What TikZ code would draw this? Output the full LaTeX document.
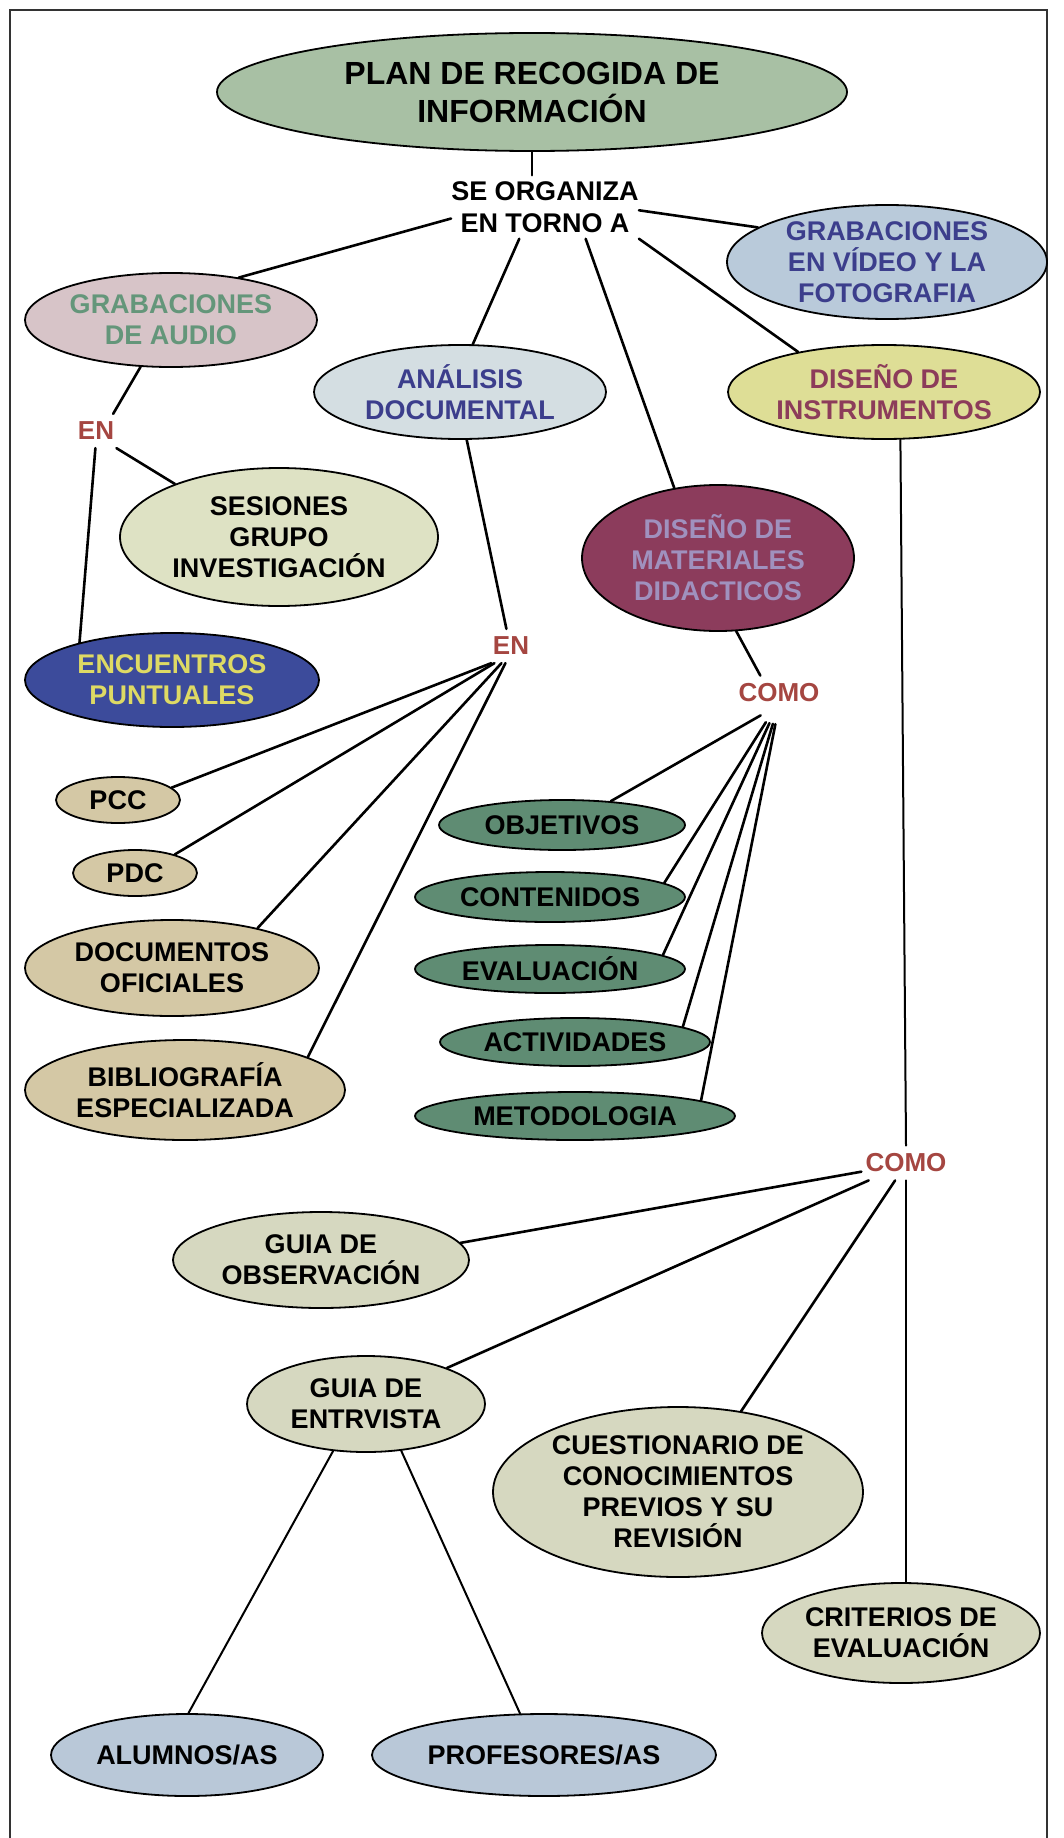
\documentclass[tikz,border=0pt]{standalone}
\usepackage{fontspec}
\setmainfont{Liberation Sans}
\usetikzlibrary{shapes.geometric}

% fills and text colours of the concept map
\definecolor{cPlan}{HTML}{A8C0A4}
\definecolor{cAudio}{HTML}{D7C4C8}
\definecolor{cAudioTx}{HTML}{64967A}
\definecolor{cVideo}{HTML}{B9CADA}
\definecolor{cAnal}{HTML}{D4DEE2}
\definecolor{cBlueTx}{HTML}{3C3E8C}
\definecolor{cInstr}{HTML}{DEDE96}
\definecolor{cInstrTx}{HTML}{8C3C5A}
\definecolor{cMat}{HTML}{8C3C5C}
\definecolor{cMatTx}{HTML}{A091BE}
\definecolor{cSes}{HTML}{DEE2C4}
\definecolor{cEnc}{HTML}{3C4B9B}
\definecolor{cEncTx}{HTML}{DEDA64}
\definecolor{cTan}{HTML}{D4C8A5}
\definecolor{cGreen}{HTML}{5F8C73}
\definecolor{cSage}{HTML}{D6D8C0}
\definecolor{cSky}{HTML}{B9C8D8}
\definecolor{cWord}{HTML}{A54641}

\tikzset{
  bub/.style={ellipse, draw=black, line width=1.8pt, inner sep=0pt},
  txt/.style={font=\bfseries\fontsize{27}{31}\selectfont, align=center, inner sep=0pt},
  word/.style={font=\bfseries\fontsize{26}{30}\selectfont, text=cWord, inner xsep=4pt, inner ysep=8pt},
  link/.style={line width=2.6pt, line cap=round},
  thin/.style={line width=2pt, line cap=round},
}

\begin{document}
\begin{tikzpicture}[x=1pt, y=-1pt]
\useasboundingbox (0,0) rectangle (1064,1838);
\fill[white] (0,0) rectangle (1064,1838);

% page frame
\draw[line width=2.5pt, black!80] (10,1838) -- (10,10) -- (1047,10) -- (1047,1838);

% main topic
\node[bub, fill=cPlan, minimum width=630, minimum height=118,
  label={[txt, font=\bfseries\fontsize{32}{38}\selectfont]center:{PLAN DE RECOGIDA DE\\INFORMACIÓN}}] (plan) at (532,92) {};
\node[font=\bfseries\fontsize{27}{32}\selectfont, align=center, inner xsep=0pt, inner ysep=6pt] (org) at (545,207) {SE ORGANIZA\\EN TORNO A};

% first level
\node[bub, fill=cAudio, minimum width=292, minimum height=94,
  label={[txt, text=cAudioTx]center:{GRABACIONES\\DE AUDIO}}] (audio) at (171,320) {};
\node[bub, fill=cVideo, minimum width=320, minimum height=114,
  label={[txt, text=cBlueTx]center:{GRABACIONES\\EN VÍDEO Y LA\\FOTOGRAFIA}}] (video) at (887,262) {};
\node[bub, fill=cAnal, minimum width=292, minimum height=94,
  label={[txt, text=cBlueTx]center:{ANÁLISIS\\DOCUMENTAL}}] (anal) at (460,392) {};
\node[bub, fill=cInstr, minimum width=312, minimum height=94,
  label={[txt, text=cInstrTx]center:{DISEÑO DE\\INSTRUMENTOS}}] (instr) at (884,392) {};
\node[bub, fill=cMat, minimum width=272, minimum height=146,
  label={[txt, text=cMatTx]center:{DISEÑO DE\\MATERIALES\\DIDACTICOS}}] (mat) at (718,558) {};

% audio branch
\node[word] (en1) at (96,431) {EN};
\node[bub, fill=cSes, minimum width=318, minimum height=138,
  label={[txt]center:{SESIONES\\GRUPO\\INVESTIGACIÓN}}] (ses) at (279,537) {};
\node[bub, fill=cEnc, minimum width=294, minimum height=94,
  label={[txt, text=cEncTx]center:{ENCUENTROS\\PUNTUALES}}] (enc) at (172,680) {};

% document analysis branch
\node[word] (en2) at (511,646) {EN};
\node[bub, fill=cTan, minimum width=124, minimum height=46,
  label={[txt]center:{PCC}}] (pcc) at (118,800) {};
\node[bub, fill=cTan, minimum width=124, minimum height=46,
  label={[txt]center:{PDC}}] (pdc) at (135,873) {};
\node[bub, fill=cTan, minimum width=294, minimum height=96,
  label={[txt]center:{DOCUMENTOS\\OFICIALES}}] (doc) at (172,968) {};
\node[bub, fill=cTan, minimum width=320, minimum height=100,
  label={[txt]center:{BIBLIOGRAFÍA\\ESPECIALIZADA}}] (bib) at (185,1090) {};

% teaching materials branch
\node[word] (como1) at (779,693) {COMO};
\node[bub, fill=cGreen, minimum width=246, minimum height=50,
  label={[txt]center:{OBJETIVOS}}] (obj) at (562,825) {};
\node[bub, fill=cGreen, minimum width=270, minimum height=50,
  label={[txt]center:{CONTENIDOS}}] (cont) at (550,897) {};
\node[bub, fill=cGreen, minimum width=270, minimum height=48,
  label={[txt]center:{EVALUACIÓN}}] (eval) at (550,969) {};
\node[bub, fill=cGreen, minimum width=270, minimum height=48,
  label={[txt]center:{ACTIVIDADES}}] (act) at (575,1042) {};
\node[bub, fill=cGreen, minimum width=320, minimum height=48,
  label={[txt]center:{METODOLOGIA}}] (met) at (575,1116) {};

% instruments branch
\node[word] (como2) at (906,1163) {COMO};
\node[bub, fill=cSage, minimum width=296, minimum height=96,
  label={[txt]center:{GUIA DE\\OBSERVACIÓN}}] (obs) at (321,1260) {};
\node[bub, fill=cSage, minimum width=238, minimum height=96,
  label={[txt]center:{GUIA DE\\ENTRVISTA}}] (entr) at (366,1404) {};
\node[bub, fill=cSage, minimum width=370, minimum height=170,
  label={[txt]center:{CUESTIONARIO DE\\CONOCIMIENTOS\\PREVIOS Y SU\\REVISIÓN}}] (cue) at (678,1492) {};
\node[bub, fill=cSage, minimum width=278, minimum height=100,
  label={[txt]center:{CRITERIOS DE\\EVALUACIÓN}}] (crit) at (901,1633) {};
\node[bub, fill=cSky, minimum width=272, minimum height=82,
  label={[txt]center:{ALUMNOS/AS}}] (alu) at (187,1755) {};
\node[bub, fill=cSky, minimum width=344, minimum height=82,
  label={[txt]center:{PROFESORES/AS}}] (prof) at (544,1755) {};

% connectors
\draw[link] (plan.south) -- (plan.south |- org.north);
\draw[link] (org.187) -- (audio.32);
\draw[link] (org.358) -- (video.165);
\draw[link] (org.south east) -- (instr.155);
\draw[link] (org.322) -- (mat.122);
\draw[link] (org.231) -- (anal.75);

\draw[link] (audio.237) -- (en1.45);
\draw[link] (en1.320) -- (ses.153);
\draw[link] (en1.268) -- (enc.158);

\draw[link] (anal.278) -- (en2.105);
\draw[link] (en2.221) -- (pcc.13);
\draw[link] (en2.226) -- (pdc.25);
\draw[link] (en2.241) -- (doc.25);
\draw[link] (en2.252) -- (bib.15);

\draw[link] (mat.284) -- (como1.137);
\draw[link, shorten <=10pt] (como1.241) -- (obj.26);
\draw[link, shorten <=14pt] (como1.252) -- (cont.7);
\draw[link, shorten <=14pt] (como1.258) -- (eval.7);
\draw[link, shorten <=14pt] (como1.263) -- (act.8);
\draw[link, shorten <=14pt] (como1.267) -- (met.7);

\draw[thin] (instr.289) -- (como2.north);
\draw[link] (como2.191) -- (obs.7);
\draw[link] (como2.205) -- (entr.24);
\draw[link] (como2.238) -- (cue.52);
\draw[thin] (como2.south) -- (como2.south |- crit.north);

\draw[thin] (entr.235) -- (alu.88);
\draw[thin] (entr.307) -- (prof.120);
\end{tikzpicture}
\end{document}
